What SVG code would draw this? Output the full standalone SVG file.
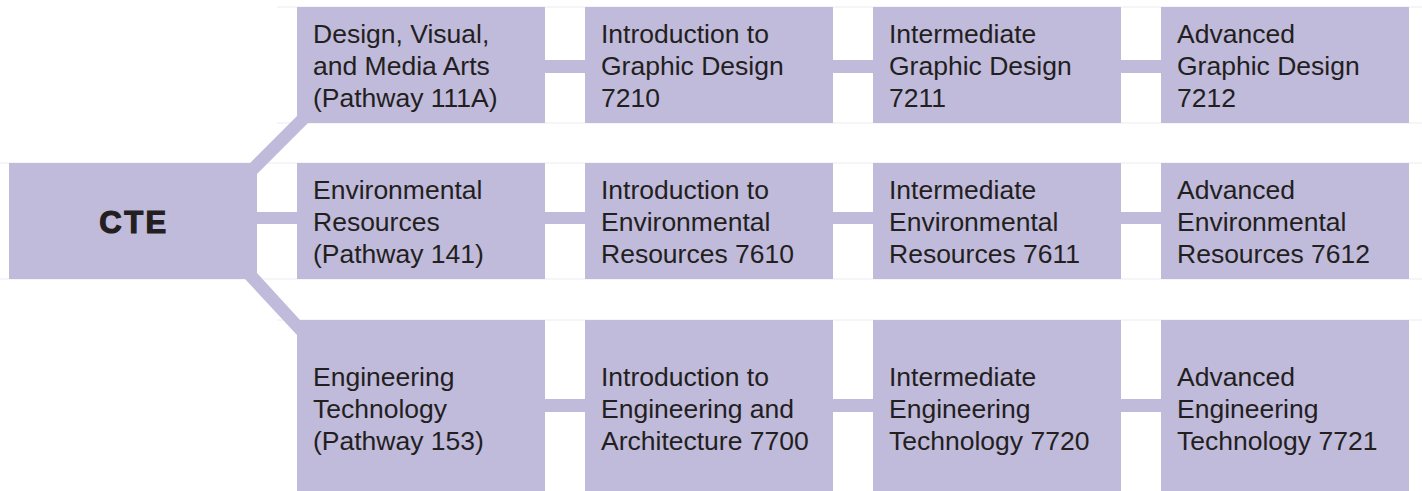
<svg xmlns="http://www.w3.org/2000/svg" width="1422" height="491" viewBox="0 0 1422 491">
<style>
.bg{fill:#ffffff}
.box{fill:#c0badb}
.con{fill:#c0badb}
.rule{stroke:#ececf2;stroke-width:1;fill:none}
.t{font-family:"Liberation Sans",Arial,Helvetica,sans-serif;font-size:26.5px;fill:#231f20}
.cte{font-family:"Liberation Sans",Arial,Helvetica,sans-serif;font-size:31px;font-weight:bold;fill:#231f20;stroke:#231f20;stroke-width:1.2;letter-spacing:2.5px}
</style>
<rect class="bg" x="0" y="0" width="1422" height="491"/>
<g id="rules">
<line class="rule" x1="277" y1="7" x2="1422" y2="7"/>
<line class="rule" x1="277" y1="123" x2="1422" y2="123"/>
<line class="rule" x1="0" y1="163" x2="1422" y2="163"/>
<line class="rule" x1="0" y1="279" x2="1422" y2="279"/>
<line class="rule" x1="277" y1="320" x2="1422" y2="320"/>
</g>
<g id="connectors">
<polygon class="con" points="250,163 297,116 297,123 308,123 257,174 257,163"/>
<rect class="con" x="257" y="212" width="40" height="12"/>
<polygon class="con" points="245,279 257,279 257,273 300,320 297,320 297,335"/>
<rect class="con" x="545" y="60" width="40" height="13"/>
<rect class="con" x="833" y="60" width="40" height="13"/>
<rect class="con" x="1121" y="60" width="40" height="13"/>
<rect class="con" x="545" y="212" width="40" height="12"/>
<rect class="con" x="833" y="212" width="40" height="12"/>
<rect class="con" x="1121" y="212" width="40" height="12"/>
<rect class="con" x="545" y="399" width="40" height="13"/>
<rect class="con" x="833" y="399" width="40" height="13"/>
<rect class="con" x="1121" y="399" width="40" height="13"/>
</g>
<g id="cte">
<rect class="box" x="9" y="163" width="248" height="116"/>
<text class="cte" x="134" y="233" text-anchor="middle">CTE</text>
</g>
<g id="dvma">
<rect class="box" x="297" y="7" width="248" height="116"/>
<text class="t" x="313" y="43">Design, Visual,</text>
<text class="t" x="313" y="75">and Media Arts</text>
<text class="t" x="313" y="107">(Pathway 111A)</text>
</g>
<g id="gd7210">
<rect class="box" x="585" y="7" width="248" height="116"/>
<text class="t" x="601" y="43">Introduction to</text>
<text class="t" x="601" y="75">Graphic Design</text>
<text class="t" x="601" y="107">7210</text>
</g>
<g id="gd7211">
<rect class="box" x="873" y="7" width="248" height="116"/>
<text class="t" x="889" y="43">Intermediate</text>
<text class="t" x="889" y="75">Graphic Design</text>
<text class="t" x="889" y="107">7211</text>
</g>
<g id="gd7212">
<rect class="box" x="1161" y="7" width="248" height="116"/>
<text class="t" x="1177" y="43">Advanced</text>
<text class="t" x="1177" y="75">Graphic Design</text>
<text class="t" x="1177" y="107">7212</text>
</g>
<g id="env">
<rect class="box" x="297" y="163" width="248" height="116"/>
<text class="t" x="313" y="199">Environmental</text>
<text class="t" x="313" y="231">Resources</text>
<text class="t" x="313" y="263">(Pathway 141)</text>
</g>
<g id="env7610">
<rect class="box" x="585" y="163" width="248" height="116"/>
<text class="t" x="601" y="199">Introduction to</text>
<text class="t" x="601" y="231">Environmental</text>
<text class="t" x="601" y="263">Resources 7610</text>
</g>
<g id="env7611">
<rect class="box" x="873" y="163" width="248" height="116"/>
<text class="t" x="889" y="199">Intermediate</text>
<text class="t" x="889" y="231">Environmental</text>
<text class="t" x="889" y="263">Resources 7611</text>
</g>
<g id="env7612">
<rect class="box" x="1161" y="163" width="248" height="116"/>
<text class="t" x="1177" y="199">Advanced</text>
<text class="t" x="1177" y="231">Environmental</text>
<text class="t" x="1177" y="263">Resources 7612</text>
</g>
<g id="eng">
<rect class="box" x="297" y="320" width="248" height="171"/>
<text class="t" x="313" y="386">Engineering</text>
<text class="t" x="313" y="418">Technology</text>
<text class="t" x="313" y="450">(Pathway 153)</text>
</g>
<g id="eng7700">
<rect class="box" x="585" y="320" width="248" height="171"/>
<text class="t" x="601" y="386">Introduction to</text>
<text class="t" x="601" y="418">Engineering and</text>
<text class="t" x="601" y="450">Architecture 7700</text>
</g>
<g id="eng7720">
<rect class="box" x="873" y="320" width="248" height="171"/>
<text class="t" x="889" y="386">Intermediate</text>
<text class="t" x="889" y="418">Engineering</text>
<text class="t" x="889" y="450">Technology 7720</text>
</g>
<g id="eng7721">
<rect class="box" x="1161" y="320" width="248" height="171"/>
<text class="t" x="1177" y="386">Advanced</text>
<text class="t" x="1177" y="418">Engineering</text>
<text class="t" x="1177" y="450">Technology 7721</text>
</g>
</svg>
